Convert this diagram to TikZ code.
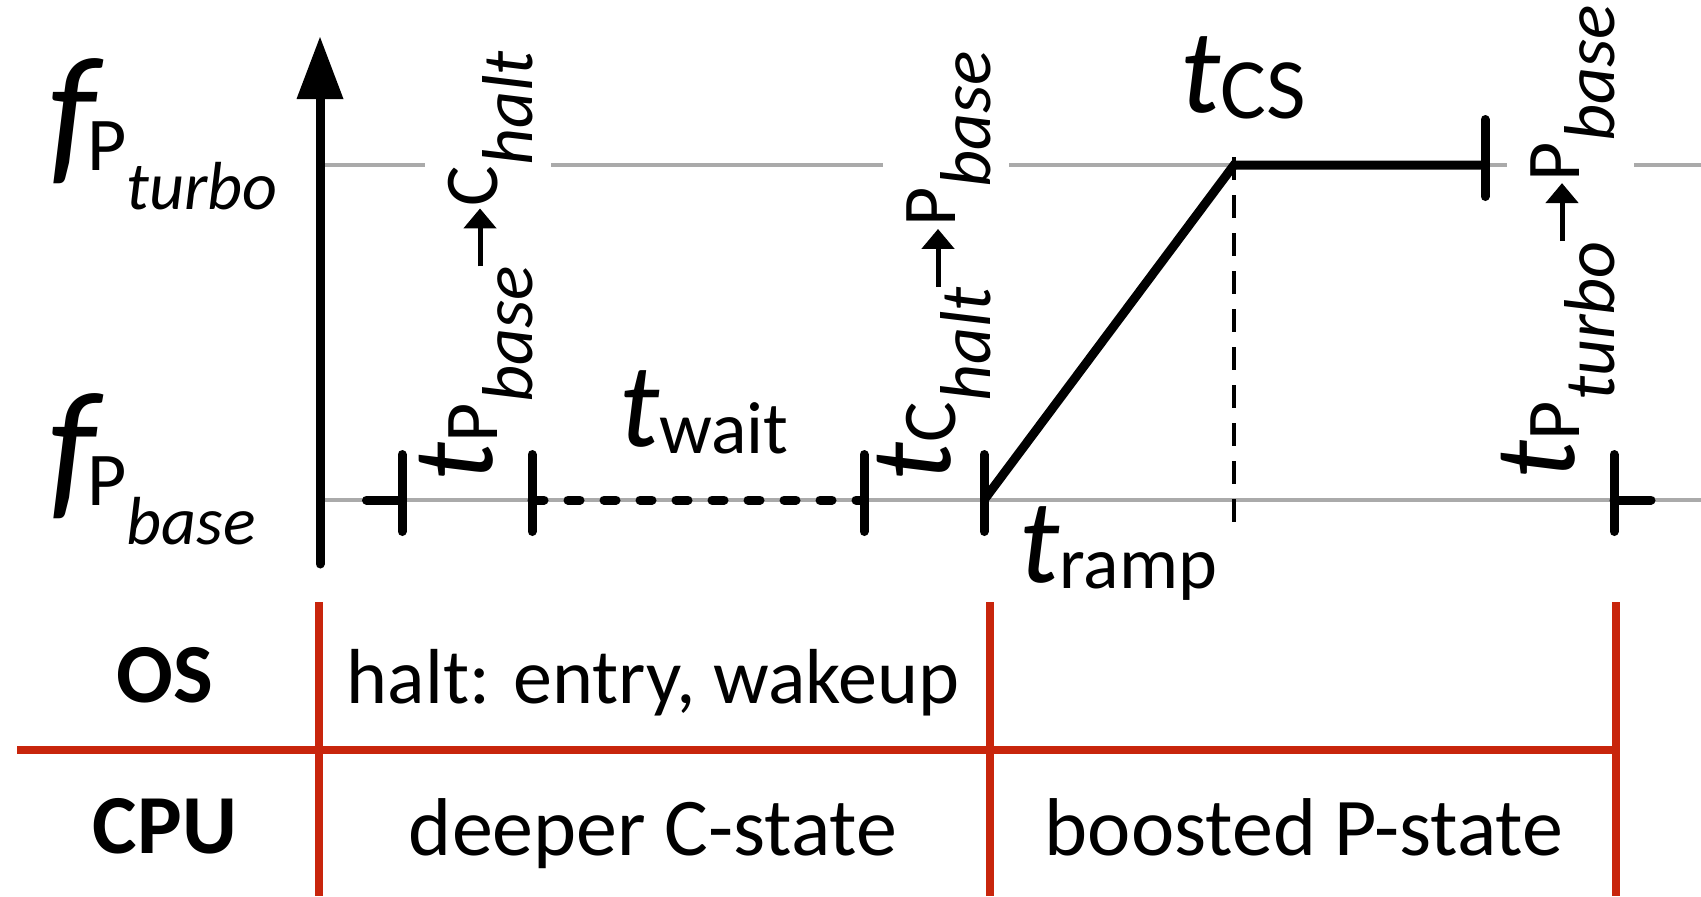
\documentclass[tikz,border=0pt]{standalone}
\usepackage{fontspec}
\usetikzlibrary{arrows.meta}
\setmainfont{Carlito}
\newcommand{\fsz}[1]{\fontsize{#1pt}{#1pt}\selectfont}
\definecolor{gridgray}{RGB}{170,170,170}
\definecolor{tabred}{RGB}{200,37,12}
\newcommand{\prepart}[2]{%
  {\fsz{58}\itshape t}%
  \raisebox{-2.5pt}{\fsz{38}#1}%
  \raisebox{-20pt}{\fsz{36}\itshape #2}\kern-1pt}
\newcommand{\postpart}[2]{%
  \raisebox{-2.5pt}{\fsz{38}#1}%
  \raisebox{-20pt}{\fsz{36}\itshape #2}}
\begin{document}
\begin{tikzpicture}[x=0.5pt,y=-0.5pt,
  grayline/.style={line width=2pt,draw=gridgray},
  blk/.style={line width=4.5pt,line cap=round},
  redline/.style={line width=4pt,draw=tabred},
  lbl/.style={inner sep=0pt,outer sep=0pt},
  rlbl/.style={inner sep=0pt,outer sep=0pt,rotate=90,anchor=base west},
  subarrow/.style={line width=2.5pt,-{Triangle[length=10pt,width=16pt]}},
  tabtxt/.style={inner sep=0pt,outer sep=0pt,anchor=base,font=\fsz{41}}]
\useasboundingbox (0,0) rectangle (1701,896);
% grid lines
\draw[grayline] (325,165) -- (425,165);
\draw[grayline] (551,165) -- (883,165);
\draw[grayline] (1009,165) -- (1234,165);
\draw[grayline] (1485,165) -- (1507,165);
\draw[grayline] (1634,165) -- (1701,165);
\draw[grayline] (325,500) -- (1701,500);
% axis
\coordinate (axbot) at (320,564);
\coordinate (axhead) at (320,99);
\coordinate (axtip) at (320,37);
\draw[blk] (axbot) -- (axhead);
\fill (axtip) -- (343.5,99) -- (296.5,99) -- cycle;
% ticks at base level
\foreach \x/\n in {402/a,532/b,864/c,984/d,1614/e}{
  \coordinate (tk\n) at (\x,500);
  \draw[blk] (\x,454.5) -- (\x,531.5);
}
\coordinate (tkf) at (1485,165);
\draw[blk] (1485,119.5) -- (1485,196.5);
% black segments
\draw[blk] (366.5,500) -- (tka);
\draw[blk] (tke) -- (1651,500);
\draw[line width=4.5pt,line cap=round,dash pattern=on 6pt off 12pt] (tkb) -- (tkc);
\coordinate (corner) at (1234,165);
\draw[line width=4.5pt] (tkd) -- (corner) -- (tkf);
\draw[line width=2pt,dash pattern=on 11.5pt off 7.5pt] (1234,157) -- (1234,535);
% frequency labels
\node[lbl,anchor=base west] (fturbo) at (48,165) {{\fsz{78}\itshape f}\kern-4pt\raisebox{-2.5pt}{\fsz{38}P}\raisebox{-22pt}{\fsz{34}\itshape turbo}};
\node[lbl,anchor=base west] (fbase) at (48,500) {{\fsz{78}\itshape f}\kern-4pt\raisebox{-2.5pt}{\fsz{38}P}\raisebox{-22pt}{\fsz{34}\itshape base}};
% rotated transition labels
\node[rlbl] (tpcA) at (492,481) {\prepart{P}{base}};
\draw[subarrow] ([shift={(-6pt,1pt)}]tpcA.base east) -- ++(0pt,29pt);
\node[rlbl] (tpcB) at ([yshift=31pt]tpcA.base east) {\postpart{C}{halt}};
\node[rlbl] (tcpA) at (950,481) {\prepart{C}{halt}};
\draw[subarrow] ([shift={(-6pt,1pt)}]tcpA.base east) -- ++(0pt,29pt);
\node[rlbl] (tcpB) at ([yshift=31pt]tcpA.base east) {\postpart{P}{base}};
\node[rlbl] (tppA) at (1574,479) {\prepart{P}{turbo}};
\draw[subarrow] ([shift={(-6pt,1pt)}]tppA.base east) -- ++(0pt,29pt);
\node[rlbl] (tppB) at ([yshift=31pt]tppA.base east) {\postpart{P}{base}};
% interval labels
\node[lbl,anchor=base west] (twait) at (619,446) {{\fsz{60}\itshape t}\raisebox{-3.5pt}{\fsz{37}wait}};
\node[lbl,anchor=base west] (tcs) at (1180,112) {{\fsz{60}\itshape t}\raisebox{-3pt}{\fsz{43}CS}};
\node[lbl,anchor=base west] (tramp) at (1019,582) {{\fsz{60}\itshape t}\raisebox{-3pt}{\fsz{37}ramp}};
% table
\draw[redline] (319,602) -- (319,896);
\draw[redline] (990,602) -- (990,896);
\draw[redline] (1616,602) -- (1616,896);
\draw[redline] (17,750) -- (1620,750);
\node[tabtxt,font=\fsz{42}\bfseries] (os) at (165,702) {OS};
\node[tabtxt,font=\fsz{42}\bfseries] (cpu) at (165,853) {CPU};
\node[tabtxt,font=\fsz{39}] (halt) at (653,703) {halt: entry, wakeup};
\node[tabtxt] (cstate) at (653,855) {deeper C-state};
\node[tabtxt] (pstate) at (1304,855) {boosted P-state};
\end{tikzpicture}
\end{document}
